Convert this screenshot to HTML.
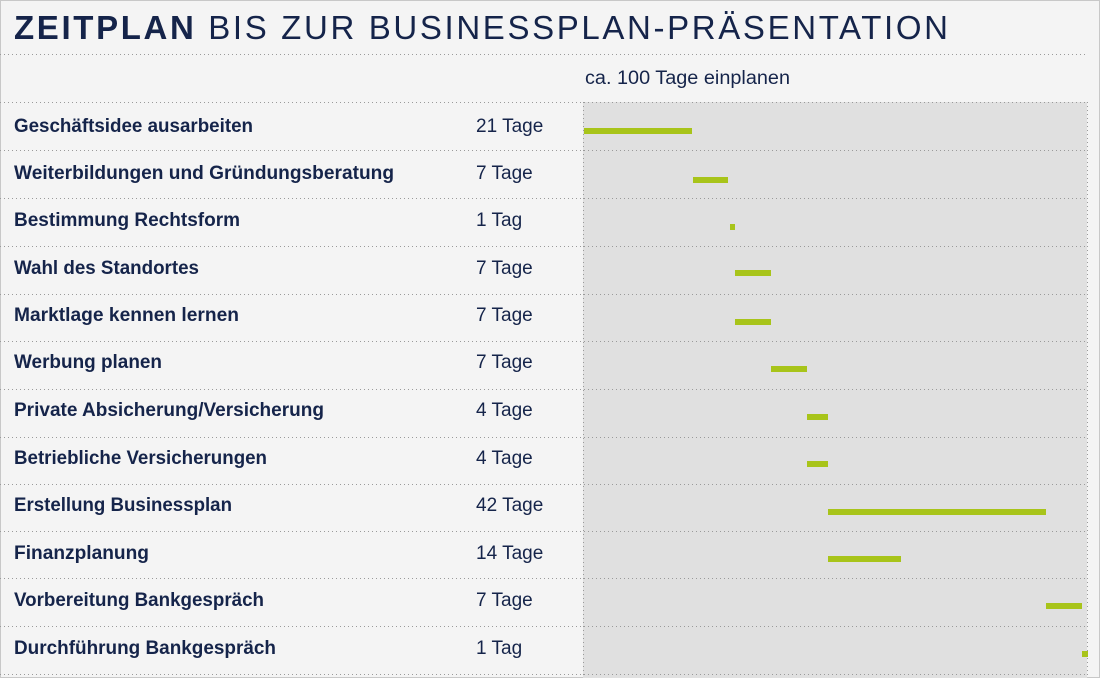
<!DOCTYPE html>
<html><head><meta charset="utf-8"><style>
html,body{margin:0;padding:0;background:#f4f4f4;}
svg{display:block;}
text{font-family:"Liberation Sans",sans-serif;fill:#15244a;}
</style></head><body>
<svg width="1100" height="678" viewBox="0 0 1100 678" xmlns="http://www.w3.org/2000/svg">
<rect x="0" y="0" width="1100" height="678" fill="#f4f4f4"/>
<rect x="0.5" y="0.5" width="1099" height="677" fill="none" stroke="#c8c8c8"/>
<rect x="583" y="102" width="504" height="576" fill="#e0e0e0"/>
<text x="14" y="39" font-size="33" textLength="934" lengthAdjust="spacing"><tspan font-weight="bold">ZEITPLAN</tspan> BIS ZUR BUSINESSPLAN-PRÄSENTATION</text>
<g stroke="#9a9a9a" stroke-width="1" stroke-dasharray="1,3" fill="none">
<line x1="0" y1="54.5" x2="1087" y2="54.5"/>
<line x1="583.5" y1="102" x2="583.5" y2="678"/>
<line x1="1087.5" y1="102" x2="1087.5" y2="678"/>
<line x1="0" y1="102.5" x2="1087" y2="102.5"/>
<line x1="0" y1="150.5" x2="1087" y2="150.5"/>
<line x1="0" y1="198.5" x2="1087" y2="198.5"/>
<line x1="0" y1="246.5" x2="1087" y2="246.5"/>
<line x1="0" y1="294.5" x2="1087" y2="294.5"/>
<line x1="0" y1="341.5" x2="1087" y2="341.5"/>
<line x1="0" y1="389.5" x2="1087" y2="389.5"/>
<line x1="0" y1="437.5" x2="1087" y2="437.5"/>
<line x1="0" y1="484.5" x2="1087" y2="484.5"/>
<line x1="0" y1="531.5" x2="1087" y2="531.5"/>
<line x1="0" y1="578.5" x2="1087" y2="578.5"/>
<line x1="0" y1="626.5" x2="1087" y2="626.5"/>
<line x1="0" y1="674.5" x2="1087" y2="674.5"/>
</g>
<text x="585" y="84" font-size="19" textLength="205" lengthAdjust="spacingAndGlyphs">ca. 100 Tage einplanen</text>
<g font-size="19" font-weight="bold">
<text x="14" y="132" textLength="239" lengthAdjust="spacingAndGlyphs">Geschäftsidee ausarbeiten</text>
<text x="14" y="179" textLength="380" lengthAdjust="spacingAndGlyphs">Weiterbildungen und Gründungsberatung</text>
<text x="14" y="226" textLength="226" lengthAdjust="spacingAndGlyphs">Bestimmung Rechtsform</text>
<text x="14" y="274" textLength="185" lengthAdjust="spacingAndGlyphs">Wahl des Standortes</text>
<text x="14" y="321" textLength="225" lengthAdjust="spacingAndGlyphs">Marktlage kennen lernen</text>
<text x="14" y="368" textLength="148" lengthAdjust="spacingAndGlyphs">Werbung planen</text>
<text x="14" y="416" textLength="310" lengthAdjust="spacingAndGlyphs">Private Absicherung/Versicherung</text>
<text x="14" y="464" textLength="253" lengthAdjust="spacingAndGlyphs">Betriebliche Versicherungen</text>
<text x="14" y="511" textLength="218" lengthAdjust="spacingAndGlyphs">Erstellung Businessplan</text>
<text x="14" y="559" textLength="135" lengthAdjust="spacingAndGlyphs">Finanzplanung</text>
<text x="14" y="606" textLength="250" lengthAdjust="spacingAndGlyphs">Vorbereitung Bankgespräch</text>
<text x="14" y="654" textLength="262" lengthAdjust="spacingAndGlyphs">Durchführung Bankgespräch</text>
</g>
<g font-size="19">
<text x="476" y="132">21 Tage</text>
<text x="476" y="179">7 Tage</text>
<text x="476" y="226">1 Tag</text>
<text x="476" y="274">7 Tage</text>
<text x="476" y="321">7 Tage</text>
<text x="476" y="368">7 Tage</text>
<text x="476" y="416">4 Tage</text>
<text x="476" y="464">4 Tage</text>
<text x="476" y="511">42 Tage</text>
<text x="476" y="559">14 Tage</text>
<text x="476" y="606">7 Tage</text>
<text x="476" y="654">1 Tag</text>
</g>
<g fill="#a8c41a">
<rect x="584" y="128" width="108" height="6"/>
<rect x="693" y="177" width="35" height="6"/>
<rect x="730" y="224" width="5" height="6"/>
<rect x="735" y="270" width="36" height="6"/>
<rect x="735" y="319" width="36" height="6"/>
<rect x="771" y="366" width="36" height="6"/>
<rect x="807" y="414" width="21" height="6"/>
<rect x="807" y="461" width="21" height="6"/>
<rect x="828" y="509" width="218" height="6"/>
<rect x="828" y="556" width="73" height="6"/>
<rect x="1046" y="603" width="36" height="6"/>
<rect x="1082" y="651" width="6" height="6"/>
</g>
</svg>
</body></html>
